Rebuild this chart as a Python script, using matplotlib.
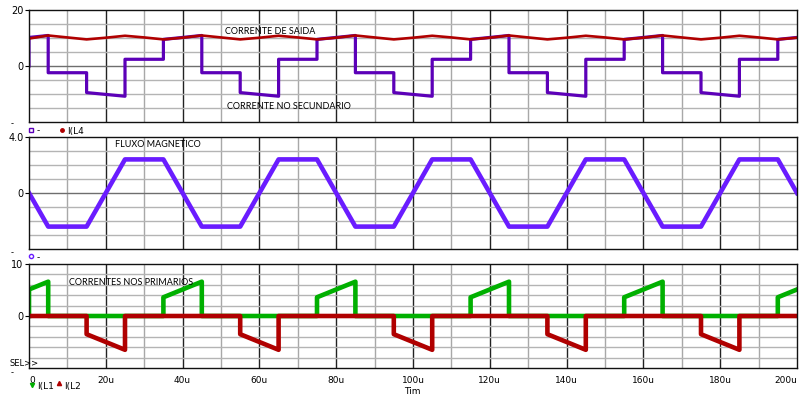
import matplotlib
matplotlib.use("Agg")
import matplotlib.pyplot as plt

# ---- data (time in microseconds) ----
t_out = [0, 5, 10, 15, 20, 25, 30, 35, 40, 45, 50, 55, 60, 65, 70, 75, 80, 85, 90, 95, 100,
         105, 110, 115, 120, 125, 130, 135, 140, 145, 150, 155, 160, 165, 170, 175, 180, 185, 190, 195, 200]
i_out = [9.8, 10.9, 10.2, 9.5, 10.1, 10.8, 10.2, 9.5, 10.1, 10.9, 10.2, 9.5, 10.1, 10.8, 10.2, 9.5,
         10.1, 10.9, 10.2, 9.5, 10.1, 10.8, 10.2, 9.5, 10.1, 10.9, 10.2, 9.5, 10.1, 10.8, 10.2, 9.5,
         10.1, 10.9, 10.2, 9.5, 10.1, 10.8, 10.2, 9.5, 10.1]

t_sec = [0, 0, 5, 5, 15, 15, 25, 25, 35, 35, 45, 45, 55, 55, 65, 65, 75, 75, 85, 85, 95, 95,
         105, 105, 115, 115, 125, 125, 135, 135, 145, 145, 155, 155, 165, 165, 175, 175, 185, 185,
         195, 195, 200]
i_sec = [0, 10.2, 10.9, -2.4, -2.4, -9.5, -10.8, 2.4, 2.4, 9.5, 10.9, -2.4, -2.4, -9.5, -10.8, 2.4,
         2.4, 9.5, 10.9, -2.4, -2.4, -9.5, -10.8, 2.4, 2.4, 9.5, 10.9, -2.4, -2.4, -9.5, -10.8, 2.4,
         2.4, 9.5, 10.9, -2.4, -2.4, -9.5, -10.8, 2.4, 2.4, 9.5, 10.2]

t_flux = [0, 5, 15, 25, 35, 45, 55, 65, 75, 85, 95, 105, 115, 125, 135, 145, 155, 165, 175, 185, 195, 200]
flux = [0, -2.4, -2.4, 2.4, 2.4, -2.4, -2.4, 2.4, 2.4, -2.4, -2.4, 2.4, 2.4, -2.4, -2.4, 2.4, 2.4,
        -2.4, -2.4, 2.4, 2.4, 0]

t_l1 = [0, 0, 5, 5, 35, 35, 45, 45, 75, 75, 85, 85, 115, 115, 125, 125, 155, 155, 165, 165, 195, 195, 200]
i_l1 = [0, 5.1, 6.6, 0, 0, 3.6, 6.6, 0, 0, 3.6, 6.6, 0, 0, 3.6, 6.6, 0, 0, 3.6, 6.6, 0, 0, 3.6, 5.1]

t_l2 = [0, 15, 15, 25, 25, 55, 55, 65, 65, 95, 95, 105, 105, 135, 135, 145, 145, 175, 175, 185, 185, 200]
i_l2 = [0, 0, -3.5, -6.5, 0, 0, -3.5, -6.5, 0, 0, -3.5, -6.5, 0, 0, -3.5, -6.5, 0, 0, -3.5, -6.5, 0, 0]

x_ticks = [0, 20, 40, 60, 80, 100, 120, 140, 160, 180, 200]
x_labels = ["0", "20u", "40u", "60u", "80u", "100u", "120u", "140u", "160u", "180u", "200u"]

PURPLE = "#5c00b8"
VIOLET = "#6a1cff"
RED = "#b00000"
GREEN = "#00b000"

fig = plt.figure(figsize=(8.05, 3.96), dpi=100)
W, H = 805.0, 396.0
left, right = 29 / W, 797 / W


def panel(top, bottom, ylim, ystep, ylabels):
    ax = fig.add_axes([left, 1 - bottom / H, right - left, (bottom - top) / H])
    ax.set_xlim(0, 200)
    ax.set_ylim(*ylim)
    for x in range(10, 200, 10):
        ax.axvline(x, color="#222222" if x % 20 == 0 else "#a8a8a8", lw=1.0, zorder=0)
    y = ylim[0] + ystep
    while y < ylim[1] - 1e-9:
        ax.axhline(y, color="#6e6e6e" if abs(y) < 1e-9 else "#b4b4b4", lw=1.0, zorder=0)
        y += ystep
    ax.set_yticks(list(ylabels.keys()))
    ax.set_yticklabels(list(ylabels.values()))
    ax.set_xticks(x_ticks)
    ax.tick_params(axis="y", length=3, pad=1, labelsize=7)
    ax.tick_params(axis="x", length=0, labelbottom=False)
    for s in ax.spines.values():
        s.set_color("#111111")
        s.set_linewidth(1.0)
    return ax


ax1 = panel(10, 122, (-20, 20), 5, {20: "20", 0: "0"})
ax1.plot(t_sec, i_sec, color=PURPLE, lw=2.3)
ax1.plot(t_out, i_out, color=RED, lw=1.9)
ax1.text(51, 12.2, "CORRENTE DE SAIDA", fontsize=6.5, family="Lato", va="center")
ax1.text(51.5, -14.3, "CORRENTE NO SECUNDARIO", fontsize=6.5, family="Lato", va="center")

ax2 = panel(137, 249, (-4, 4), 1, {4: "4.0", 0: "0"})
ax2.plot(t_flux, flux, color=VIOLET, lw=3.3)
ax2.text(22.5, 3.45, "FLUXO MAGNETICO", fontsize=6.5, family="Lato", va="center")

ax3 = panel(264, 368, (-10, 10), 2, {10: "10", 0: "0"})
ax3.plot(t_l1, i_l1, color=GREEN, lw=3.3)
ax3.plot(t_l2, i_l2, color=RED, lw=3.3)
ax3.text(10.3, 6.4, "CORRENTES NOS PRIMARIOS", fontsize=6.5, family="Lato", va="center")
ax3.tick_params(axis="x", labelbottom=True, labelsize=6.5, pad=6)
ax3.set_xticklabels(x_labels)
ax3.get_xticklabels()[-1].set_horizontalalignment("right")
ax3.get_xticklabels()[0].set_horizontalalignment("left")

# truncated bottom labels and legend strip, as in the scope window
for yy in (124, 253, 373):
    fig.text(12 / W, 1 - yy / H, "-", fontsize=6, ha="center", va="center")
fig.text(9 / W, 1 - 363 / H, "SEL>>", fontsize=6, va="center")
fig.text(412 / W, 1 - 392 / H, "Tim", fontsize=6.5, ha="center", va="center")

fig.lines.append(plt.Line2D([31 / W], [1 - 130 / H], marker="s", ms=3, mfc="none", mec=PURPLE,
                            transform=fig.transFigure))
fig.text(37 / W, 1 - 131 / H, "-", fontsize=6.5, va="center")
fig.lines.append(plt.Line2D([62 / W], [1 - 130 / H], marker="o", ms=2.5, color=RED,
                            transform=fig.transFigure))
fig.text(67 / W, 1 - 132 / H, "I(L4", fontsize=6.5, va="center")

fig.lines.append(plt.Line2D([31 / W], [1 - 256 / H], marker="o", ms=3, mfc="none", mec=VIOLET,
                            transform=fig.transFigure))
fig.text(37 / W, 1 - 258 / H, "-", fontsize=6.5, va="center")

fig.lines.append(plt.Line2D([32 / W], [1 - 385 / H], marker="v", ms=3, color=GREEN,
                            transform=fig.transFigure))
fig.text(37 / W, 1 - 387 / H, "I(L1", fontsize=6.5, va="center")
fig.lines.append(plt.Line2D([59 / W], [1 - 383 / H], marker="^", ms=3, color=RED,
                            transform=fig.transFigure))
fig.text(64 / W, 1 - 387 / H, "I(L2", fontsize=6.5, va="center")

fig.savefig("out.png", dpi=100)
